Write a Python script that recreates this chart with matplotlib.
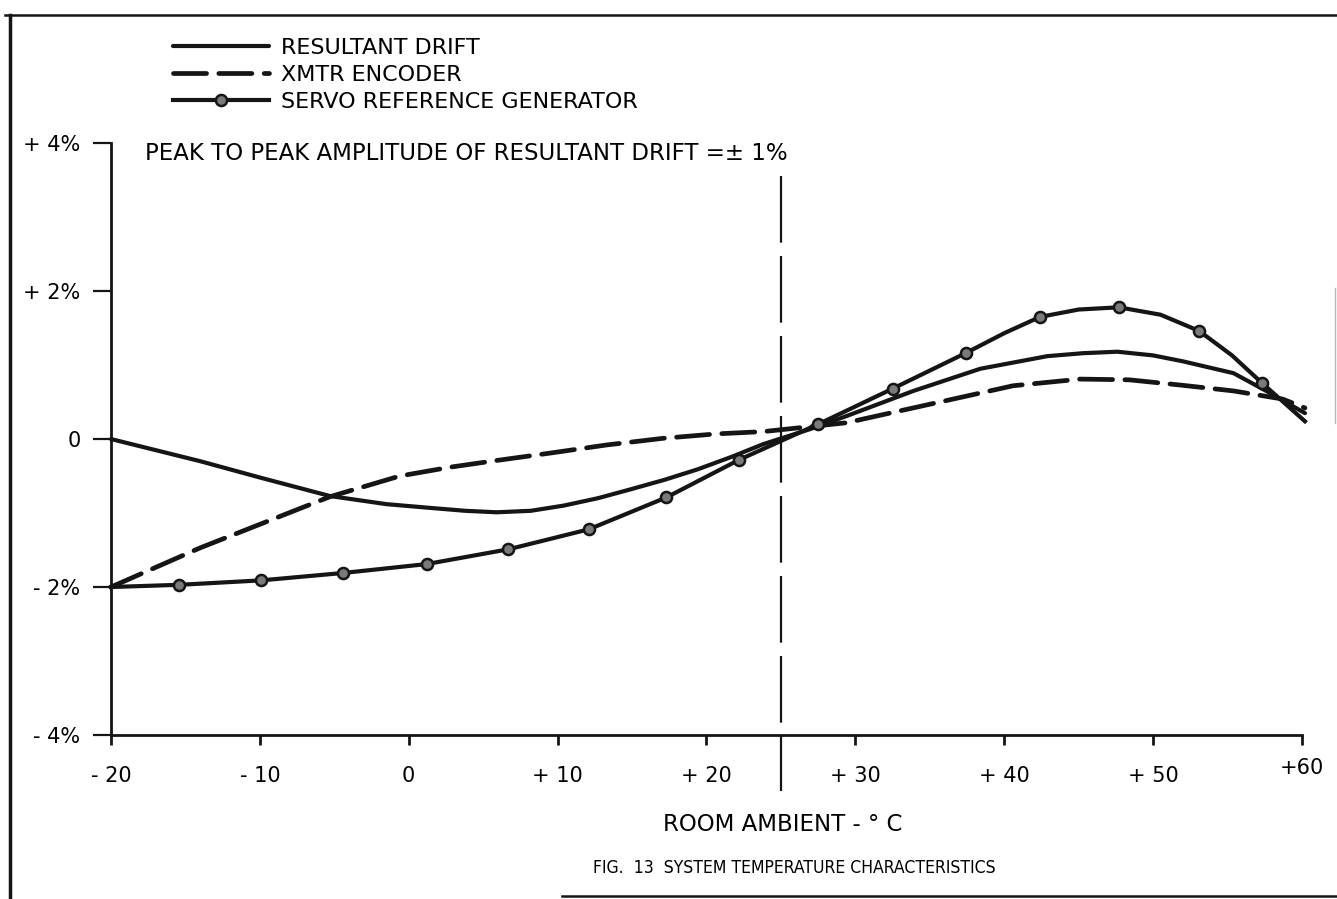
import matplotlib
matplotlib.use("Agg")
import matplotlib.pyplot as plt
from matplotlib.lines import Line2D
from matplotlib.transforms import ScaledTranslation

plt.rcParams['font.family'] = ['DejaVu Sans']

# values (temperature in deg C, drift in %)
drift_t = [-20, -17, -14, -10, -5.3, -1.5, 1.4, 3.8, 5.9, 8.2, 10.4, 12.7,
           14.9, 17.2, 19.4, 21.7, 23.8, 26.9, 29.4, 33.9, 38.4, 42.9, 45.3,
           47.6, 50.0, 52.0, 55.4, 57.6, 60.2]
drift_v = [0.0, -0.15, -0.30, -0.52, -0.77, -0.88, -0.93, -0.97, -0.99,
           -0.97, -0.90, -0.80, -0.68, -0.55, -0.41, -0.24, -0.07, 0.13, 0.31,
           0.65, 0.95, 1.12, 1.16, 1.18, 1.13, 1.05, 0.89, 0.65, 0.35]

enc_t = [-20, -14, -5.3, -0.6, 2.8, 5.9, 9.5, 13.3, 17.1, 20.7, 23.8, 29.4,
         35.0, 40.6, 45.1, 48.4, 51.8, 55.4, 58.7, 60.2]
enc_v = [-2.0, -1.47, -0.78, -0.50, -0.38, -0.29, -0.19, -0.08, 0.01, 0.07,
         0.10, 0.22, 0.47, 0.72, 0.81, 0.80, 0.73, 0.65, 0.54, 0.42]

servo_t = [-20, -15.4, -9.9, -4.4, 1.2, 6.7, 12.1, 17.3, 22.2, 27.5, 32.5,
           37.4, 40.0, 42.4, 45.0, 47.7, 50.5, 53.1, 55.3, 57.3, 60.2]
servo_v = [-2.0, -1.97, -1.91, -1.81, -1.69, -1.49, -1.22, -0.79, -0.28, 0.20,
           0.68, 1.16, 1.43, 1.65, 1.75, 1.78, 1.68, 1.46, 1.13, 0.76, 0.24]
servo_marks = [1, 2, 3, 4, 5, 6, 7, 8, 9, 10, 11, 13, 15, 17, 19]

x_ticks = [-20, -10, 0, 10, 20, 30, 40, 50, 60]
x_labels = ['- 20', '- 10', '0', '+ 10', '+ 20', '+ 30', '+ 40', '+ 50', '+60']
y_ticks = [-4, -2, 0, 2, 4]
y_labels = ['- 4%', '- 2%', '0', '+ 2%', '+ 4%']
room_t = 25

ink = '#151515'

fig = plt.figure(figsize=(13.37, 8.99), dpi=100)
ax = fig.add_axes([0.0830, 0.1824, 0.8908, 0.6585])

ax.plot(drift_t, drift_v, color=ink, lw=3.0, solid_capstyle='round',
        solid_joinstyle='round', clip_on=False, label='RESULTANT DRIFT')
ax.plot(enc_t, enc_v, color=ink, lw=3.4, linestyle=(0, (7.0, 2.6)),
        dash_capstyle='round', clip_on=False, label='XMTR ENCODER')
ax.plot(servo_t, servo_v, color=ink, lw=3.0, marker='o', markersize=8,
        markevery=servo_marks, mfc='#7a7a7a', mec=ink, mew=1.8,
        solid_joinstyle='round', clip_on=False,
        label='SERVO REFERENCE GENERATOR')

# room ambient marker line, runs below the axis
ax.plot([room_t, room_t], [3.55, -4.76], color=ink, lw=1.6,
        linestyle=(0, (30, 6)), clip_on=False)

ax.set_xlim(-20, 60)
ax.set_ylim(-4, 4)
for s in ['top', 'right']:
    ax.spines[s].set_visible(False)
for s in ['left', 'bottom']:
    ax.spines[s].set_linewidth(2.0)
    ax.spines[s].set_color(ink)

ax.set_xticks(x_ticks)
ax.set_xticklabels(x_labels, fontsize=15)
ax.set_yticks(y_ticks)
ax.set_yticklabels(y_labels, fontsize=15)
ax.tick_params(axis='y', length=13, width=1.6, pad=9, color=ink)
ax.tick_params(axis='x', length=7, width=2.0, pad=15, color=ink)

# the hand-lettered +60 sits a little higher than the others
lab60 = ax.get_xticklabels()[-1]
lab60.set_transform(lab60.get_transform()
                    + ScaledTranslation(0, 8 / 100, fig.dpi_scale_trans))

ax.set_xlabel('ROOM AMBIENT - ° C', fontsize=16.5)
ax.xaxis.set_label_coords(0.564, -0.131)

ax.text(-17.7, 3.86, 'PEAK TO PEAK AMPLITUDE OF RESULTANT DRIFT =± 1%',
        fontsize=16.5, va='center', ha='left')

fig.text(0.594, 0.0345, 'FIG.  13  SYSTEM TEMPERATURE CHARACTERISTICS',
         fontsize=12.6, ha='center', va='center', fontstretch='condensed',
         family=['DejaVu Sans Condensed', 'DejaVu Sans'])

leg = ax.legend(loc='upper left', bbox_to_anchor=(0.1294, 0.958),
                bbox_transform=fig.transFigure, frameon=False, fontsize=16,
                handlelength=4.3, handletextpad=0.55, labelspacing=0.32,
                borderpad=0, borderaxespad=0, markerscale=1.0)

# page frame lines from the scan
fig.add_artist(Line2D([0.0075, 0.0075], [0.0, 0.983], color=ink, lw=2.5))
fig.add_artist(Line2D([0.004, 1.0], [0.983, 0.983], color=ink, lw=1.8))
fig.add_artist(Line2D([0.42, 1.0], [0.003, 0.003], color=ink, lw=1.8))
fig.add_artist(Line2D([0.9985, 0.9985], [0.53, 0.68], color='#bbbbbb', lw=1.0))

fig.savefig('out.png', dpi=100)
